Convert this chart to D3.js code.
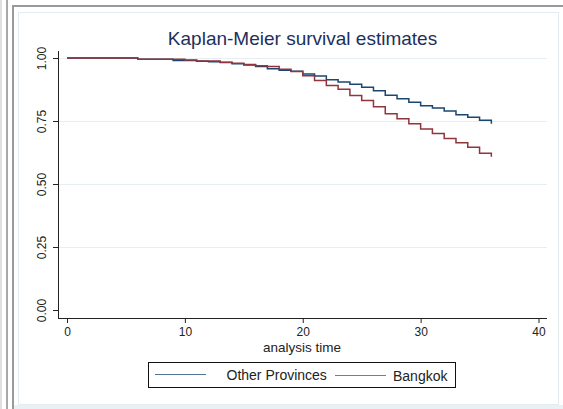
<!DOCTYPE html>
<html>
<head>
<meta charset="utf-8">
<script src="https://cdn.jsdelivr.net/npm/d3@7"></script>
<style>
  html, body { margin: 0; padding: 0; background: #ffffff; }
  svg { display: block; font-family: "Liberation Sans", Arial, sans-serif; }
</style>
</head>
<body>
<svg id="chart" width="563" height="409"></svg>
<script>
// Survival estimate on [t, t+1) for each month t = 0..36
const months = d3.range(0, 37);
const otherProvinces = [1, 1, 1, 1, 1, 1, 0.995, 0.995, 0.995, 0.990, 0.990, 0.987, 0.985, 0.982, 0.977,
  0.972, 0.966, 0.957, 0.951, 0.947, 0.937, 0.929, 0.914, 0.905, 0.896, 0.884, 0.870, 0.852,
  0.838, 0.824, 0.811, 0.802, 0.790, 0.775, 0.765, 0.753, 0.739];
const bangkok = [1, 1, 1, 1, 1, 1, 0.995, 0.995, 0.995, 0.995, 0.992, 0.988, 0.988, 0.983, 0.979,
  0.974, 0.969, 0.966, 0.955, 0.946, 0.930, 0.911, 0.891, 0.876, 0.851, 0.831, 0.807, 0.779,
  0.759, 0.739, 0.718, 0.700, 0.681, 0.664, 0.646, 0.622, 0.608];
const seriesNames = ["Other Provinces", "Bangkok"];
const seriesColors = ["#1a476f", "#90353b"];
const xTicks = [0, 10, 20, 30, 40];
const yTicks = [0, 0.25, 0.5, 0.75, 1];
const yTickLabels = ["0.00", "0.25", "0.50", "0.75", "1.00"];
const titleText = "Kaplan-Meier survival estimates";
const xTitle = "analysis time";

const svg = d3.select("#chart");

// window frame
svg.append("rect").attr("x", 0).attr("y", 0).attr("width", 563).attr("height", 409).attr("fill", "#ffffff");
svg.append("line").attr("x1", 1).attr("x2", 1).attr("y1", 0).attr("y2", 409).attr("stroke", "#d4d4d4").attr("stroke-width", 1.5);
svg.append("rect").attr("x", 6).attr("y", 0).attr("width", 2).attr("height", 409).attr("fill", "#a8a8a8");
svg.append("rect").attr("x", 12).attr("y", 5).attr("width", 2).attr("height", 404).attr("fill", "#9a9a9a");
svg.append("rect").attr("x", 12).attr("y", 5).attr("width", 551).attr("height", 2).attr("fill", "#9a9a9a");
// graph panel
svg.append("rect").attr("x", 18.5).attr("y", 12.5).attr("width", 540).attr("height", 392)
  .attr("fill", "#ffffff").attr("stroke", "#e3ecef").attr("stroke-width", 1);
svg.append("rect").attr("x", 14).attr("y", 405).attr("width", 549).attr("height", 4).attr("fill", "#eaf1f4");

const x = d3.scaleLinear().domain([0, 40]).range([67, 538.5]);
const y = d3.scaleLinear().domain([0, 1]).range([310, 58]);
const plotLeft = 58, plotRight = 547, plotBottom = 318, plotTop = 51;

// gridlines
svg.append("g").selectAll("line").data(yTicks.filter(d => d > 0)).join("line")
  .attr("x1", plotLeft).attr("x2", plotRight)
  .attr("y1", d => Math.round(y(d)) + 0.5).attr("y2", d => Math.round(y(d)) + 0.5)
  .attr("stroke", "#e6eef1").attr("stroke-width", 1);

// y axis
const yAxis = d3.axisLeft(y).tickValues(yTicks).tickFormat((d, i) => yTickLabels[i]).tickSize(5).tickPadding(0);
const gy = svg.append("g").attr("transform", `translate(${plotLeft},0)`).call(yAxis);
gy.select(".domain").remove();
gy.selectAll(".tick line").attr("stroke", "#222");
gy.selectAll(".tick text")
  .attr("transform", "rotate(-90)")
  .attr("x", 0).attr("y", -12).attr("dy", 0)
  .attr("text-anchor", "middle")
  .attr("font-size", 12).attr("fill", "#222")
  .attr("font-family", "Liberation Sans, Arial, sans-serif");
svg.append("line").attr("x1", plotLeft + 0.5).attr("x2", plotLeft + 0.5).attr("y1", plotTop).attr("y2", plotBottom + 0.5)
  .attr("stroke", "#222").attr("stroke-width", 1);

// x axis
const xAxis = d3.axisBottom(x).tickValues(xTicks).tickFormat(d3.format("d")).tickSize(5).tickPadding(3);
const gx = svg.append("g").attr("transform", `translate(0,${plotBottom})`).call(xAxis);
gx.select(".domain").remove();
gx.selectAll(".tick line").attr("stroke", "#222");
gx.selectAll(".tick text").attr("font-size", 12).attr("fill", "#222")
  .attr("font-family", "Liberation Sans, Arial, sans-serif").attr("dy", "0.85em");
svg.append("line").attr("x1", plotLeft).attr("x2", plotRight).attr("y1", plotBottom + 0.5).attr("y2", plotBottom + 0.5)
  .attr("stroke", "#222").attr("stroke-width", 1);

// survival curves
const line = d3.line().x(d => x(d[0])).y(d => y(d[1])).curve(d3.curveStepAfter);
[otherProvinces, bangkok].forEach((vals, i) => {
  svg.append("path")
    .datum(months.map((m, j) => [m, vals[j]]))
    .attr("d", line)
    .attr("fill", "none")
    .attr("stroke", seriesColors[i])
    .attr("stroke-width", 1.5);
});

// title
svg.append("text").attr("x", 302.5).attr("y", 45).attr("text-anchor", "middle")
  .attr("font-size", 19).attr("fill", "#1e2f5c").text(titleText);

// axis title
svg.append("text").attr("x", 302).attr("y", 352).attr("text-anchor", "middle")
  .attr("font-size", 13.5).attr("fill", "#222").text(xTitle);

// legend
const lg = svg.append("g");
lg.append("rect").attr("x", 148.5).attr("y", 362.5).attr("width", 307).attr("height", 25)
  .attr("fill", "#ffffff").attr("stroke", "#111").attr("stroke-width", 1);
const keyX = [155, 335], labelX = [226.5, 393], labelY = [379.5, 381], keyY = [374.5, 375.5];
seriesNames.forEach((name, i) => {
  lg.append("line").attr("x1", keyX[i]).attr("x2", keyX[i] + 51)
    .attr("y1", keyY[i]).attr("y2", keyY[i])
    .attr("stroke", seriesColors[i]).attr("stroke-width", 1).attr("stroke-opacity", 0.75);
  lg.append("text").attr("x", labelX[i]).attr("y", labelY[i])
    .attr("font-size", 14).attr("fill", "#222").text(name);
});
</script>
</body>
</html>
